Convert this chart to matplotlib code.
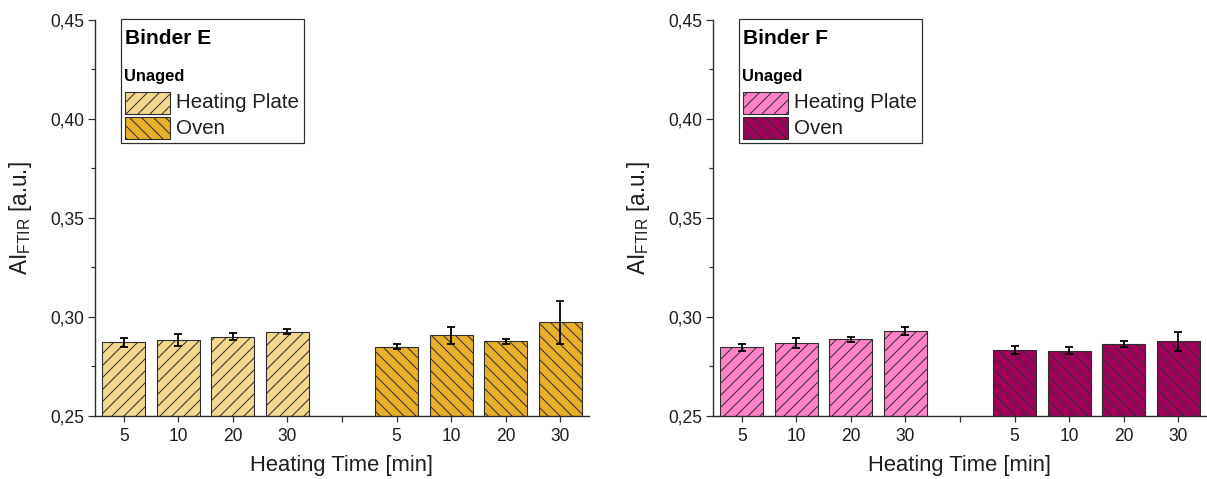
import matplotlib
matplotlib.use("Agg")
import matplotlib.pyplot as plt
from matplotlib import patches
from matplotlib.ticker import MultipleLocator, FuncFormatter

plt.rcParams['font.family'] = 'Liberation Sans'
plt.rcParams['mathtext.fontset'] = 'custom'
plt.rcParams['mathtext.rm'] = 'Liberation Sans'
plt.rcParams['hatch.linewidth'] = 1.0

# heating times [min]
times = ['5', '10', '20', '30']

# binder E
e_plate = [0.2872, 0.2884, 0.2900, 0.2926]
e_plate_err = [0.0021, 0.0029, 0.0017, 0.0013]
e_oven = [0.2851, 0.2907, 0.2877, 0.2973]
e_oven_err = [0.0014, 0.0043, 0.0013, 0.0109]

# binder F
f_plate = [0.2846, 0.2870, 0.2887, 0.2931]
f_plate_err = [0.0017, 0.0025, 0.0013, 0.0020]
f_oven = [0.2834, 0.2829, 0.2865, 0.2877]
f_oven_err = [0.0020, 0.0017, 0.0014, 0.0048]

W, H = 1207, 479
DPI = 72
fig = plt.figure(figsize=(W / DPI, H / DPI), dpi=DPI)

text_col = '#1e1e1e'
edge_col = '#2e2e2e'


def px(x, y):
    return x / W, 1 - y / H


def draw_panel(left_px, name, plate, plate_err, oven, oven_err, c_plate, c_oven):
    ax = fig.add_axes([left_px / W, 63 / H, 494 / W, 396 / H])
    pos_plate = [1, 2, 3, 4]
    pos_oven = [6, 7, 8, 9]
    ax.bar(pos_plate, plate, width=0.79, color=c_plate, edgecolor=edge_col,
           linewidth=1.1, hatch='//', zorder=2)
    ax.bar(pos_oven, oven, width=0.79, color=c_oven, edgecolor=edge_col,
           linewidth=1.1, hatch='\\\\', zorder=2)
    ax.errorbar(pos_plate, plate, yerr=plate_err, fmt='none', ecolor='black',
                elinewidth=1.8, capsize=4, capthick=1.8, zorder=3)
    ax.errorbar(pos_oven, oven, yerr=oven_err, fmt='none', ecolor='black',
                elinewidth=1.8, capsize=4, capthick=1.8, zorder=3)

    ax.set_xlim(0.47, 9.53)
    ax.set_ylim(0.25, 0.45)
    ax.set_xticks(range(1, 10))
    ax.set_xticklabels(times + [''] + times)
    ax.yaxis.set_major_locator(MultipleLocator(0.05))
    ax.yaxis.set_minor_locator(MultipleLocator(0.025))
    ax.yaxis.set_major_formatter(FuncFormatter(lambda v, p: f'{v:.2f}'.replace('.', ',')))

    for s in ['top', 'right']:
        ax.spines[s].set_visible(False)
    for s in ['left', 'bottom']:
        ax.spines[s].set_color(edge_col)
        ax.spines[s].set_linewidth(1.4)
    ax.tick_params(axis='y', which='major', length=7, width=1.2, color=edge_col,
                   labelsize=17.5, labelcolor=text_col, pad=4)
    ax.tick_params(axis='y', which='minor', length=4, width=1.2, color=edge_col)
    ax.tick_params(axis='x', length=6, width=1.2, color=edge_col,
                   labelsize=17.5, labelcolor=text_col, pad=6)

    ax.set_ylabel(r'AI$_{\rm FTIR}$ [a.u.]', fontsize=22.5, color=text_col)
    ax.yaxis.set_label_coords(-0.123, 0.5)
    ax.set_xlabel('Heating Time [min]', fontsize=22, color=text_col)
    ax.xaxis.set_label_coords(0.5, -0.098)

    # legend box
    off = left_px - 95
    x0, y0 = px(121 + off, 143)
    x1, y1 = px(304 + off, 19)
    fig.add_artist(patches.Rectangle((x0, y0), x1 - x0, y1 - y0, transform=fig.transFigure,
                                     facecolor='white', edgecolor=edge_col, linewidth=1.2))
    fig.text(*px(125 + off, 39), name, fontsize=21, fontweight='bold', color='black',
             va='center', ha='left')
    fig.text(*px(124 + off, 76.5), 'Unaged', fontsize=16.5, fontweight='bold', color='black',
             va='center', ha='left')
    rows = [('Heating Plate', c_plate, '//', 92), ('Oven', c_oven, '\\\\', 117)]
    for label, col, hatch, top in rows:
        rx, ry = px(125 + off, top + 22)
        fig.add_artist(patches.Rectangle((rx, ry), 45 / W, 22 / H, transform=fig.transFigure,
                                         facecolor=col, edgecolor=edge_col, linewidth=1.1,
                                         hatch=hatch))
        fig.text(*px(176 + off, top + 11), label, fontsize=20.5, color=text_col,
                 va='center', ha='left')
    return ax


draw_panel(95, 'Binder E', e_plate, e_plate_err, e_oven, e_oven_err, '#F5D88F', '#E8AF2A')
draw_panel(713, 'Binder F', f_plate, f_plate_err, f_oven, f_oven_err, '#FF82C8', '#A0005A')

fig.savefig('out.png', dpi=DPI, facecolor='white')
